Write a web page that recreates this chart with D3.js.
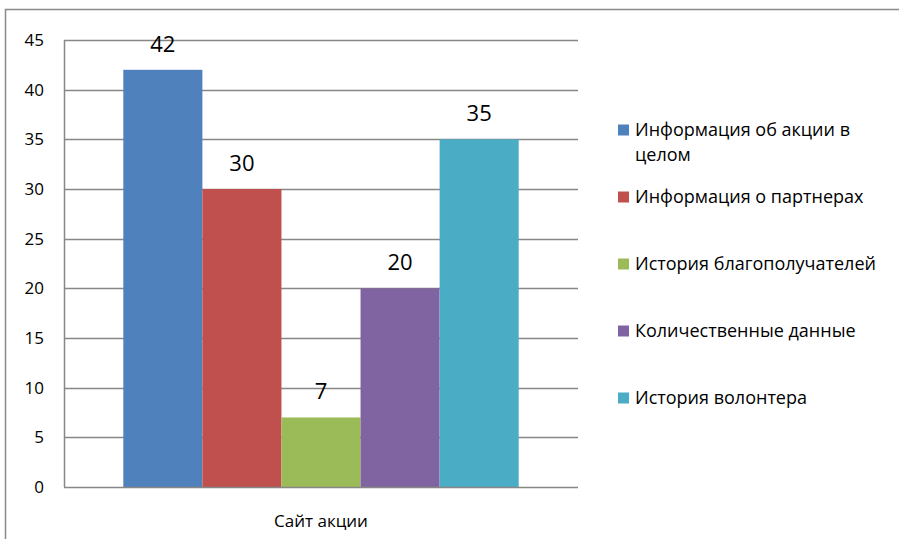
<!DOCTYPE html>
<html>
<head>
<meta charset="utf-8">
<script src="https://cdn.jsdelivr.net/npm/d3@7"></script>
<style>
  body { margin: 0; background: #fff; }
  text { font-family: "Open Sans", "Noto Sans", sans-serif; fill: #000; }
</style>
</head>
<body>
<div id="my_dataviz"></div>
<script>
// chart data
var categories = ["Сайт акции"];
var seriesNames = ["Информация об акции в целом", "Информация о партнерах", "История благополучателей", "Количественные данные", "История волонтера"];
var seriesValues = [42, 30, 7, 20, 35];
var seriesColors = ["#4F81BD", "#C0504D", "#9BBB59", "#8064A2", "#4BACC6"];
var yTicks = [0, 5, 10, 15, 20, 25, 30, 35, 40, 45];
// legend lines (first entry wraps in two lines)
var legendLines = [["Информация об акции в", "целом"], ["Информация о партнерах"], ["История благополучателей"], ["Количественные данные"], ["История волонтера"]];

var W = 899, H = 539;
var margin = {top: 40, right: 321, bottom: 52, left: 64},
    width = W - margin.left - margin.right,
    height = H - margin.top - margin.bottom;

var root = d3.select("#my_dataviz")
  .append("svg")
    .attr("width", W)
    .attr("height", H);

// outer frame (left and top edges only visible)
root.append("path")
  .attr("d", "M5.5,539V9.5H899")
  .attr("fill", "none")
  .attr("stroke", "#898989")
  .attr("stroke-width", 1.5);

var svg = root.append("g")
  .attr("transform", "translate(" + margin.left + "," + margin.top + ")");

var y = d3.scaleLinear().domain([0, 45]).range([height, 0]);

// category band, gap width 150%
var x0 = d3.scaleBand().domain(categories).range([0, width]);
var nS = seriesValues.length;
var barW = x0.bandwidth() / (nS + 1.5);
var x1 = d3.scaleBand().domain(d3.range(nS))
  .range([x0(categories[0]) + barW * 0.75, x0(categories[0]) + barW * (nS + 0.75)]);

// gridlines
svg.append("g")
  .selectAll("line")
  .data(yTicks.filter(function(d) { return d > 0; }))
  .enter().append("line")
    .attr("x1", 0).attr("x2", width)
    .attr("y1", function(d) { return Math.round(y(d)) + 0.5; })
    .attr("y2", function(d) { return Math.round(y(d)) + 0.5; })
    .attr("stroke", "#878787")
    .attr("stroke-width", 1.5);

// bars
svg.selectAll("rect.bar")
  .data(seriesValues)
  .enter().append("rect")
    .attr("class", "bar")
    .attr("x", function(d, i) { return x1(i); })
    .attr("y", function(d) { return y(d); })
    .attr("width", x1.bandwidth())
    .attr("height", function(d) { return height - y(d); })
    .attr("fill", function(d, i) { return seriesColors[i]; });

// value labels
svg.selectAll("text.val")
  .data(seriesValues)
  .enter().append("text")
    .attr("class", "val")
    .attr("x", function(d, i) { return x1(i) + x1.bandwidth() / 2; })
    .attr("y", function(d) { return y(d) - 18; })
    .attr("text-anchor", "middle")
    .style("font-size", "22px")
    .text(function(d) { return d; });

// axes lines
svg.append("line")
  .attr("x1", 0.5).attr("x2", 0.5).attr("y1", 0).attr("y2", height)
  .attr("stroke", "#878787").attr("stroke-width", 1.5);
svg.append("line")
  .attr("x1", 0).attr("x2", width).attr("y1", height + 0.5).attr("y2", height + 0.5)
  .attr("stroke", "#878787").attr("stroke-width", 1.5);

// y tick labels
svg.selectAll("text.ytick")
  .data(yTicks)
  .enter().append("text")
    .attr("class", "ytick")
    .attr("x", -20)
    .attr("y", function(d) { return y(d); })
    .attr("dy", "0.35em")
    .attr("text-anchor", "end")
    .style("font-size", "17px")
    .text(function(d) { return d; });

// x category label
svg.append("text")
  .attr("x", x0(categories[0]) + x0.bandwidth() / 2)
  .attr("y", height + 40)
  .attr("text-anchor", "middle")
  .style("font-size", "17px")
  .text(categories[0]);

// legend
var legendY = [130, 197, 264, 331, 398];
var legend = root.append("g");
legendLines.forEach(function(lines, i) {
  var g = legend.append("g").attr("transform", "translate(618," + legendY[i] + ")");
  g.append("rect")
    .attr("x", 0).attr("y", -5.5)
    .attr("width", 11).attr("height", 11)
    .attr("fill", seriesColors[i]);
  lines.forEach(function(t, j) {
    g.append("text")
      .attr("x", 17)
      .attr("y", j * 25)
      .attr("dy", "0.35em")
      .style("font-size", "18px")
      .text(t);
  });
});
</script>
</body>
</html>
